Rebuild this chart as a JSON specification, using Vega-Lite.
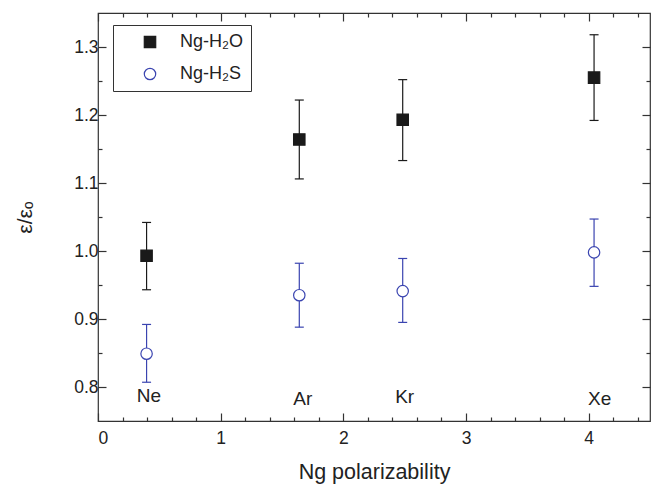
{
  "$schema": "https://vega.github.io/schema/vega-lite/v6.json",
  "width": 552,
  "height": 408,
  "autosize": {"type": "none"},
  "padding": {"left": 98, "top": 13, "right": 1, "bottom": 64},
  "config": {
    "font": "Liberation Sans",
    "view": {"stroke": "#333333", "strokeWidth": 1.2},
    "axis": {"grid": false, "domain": false, "tickColor": "#333333", "tickWidth": 1.2, "labelColor": "#222222", "titleColor": "#222222", "labelFont": "Liberation Sans", "titleFont": "Liberation Sans", "titleFontWeight": "normal", "labelOverlap": false},
    "legend": {"orient": "none", "legendX": 15, "legendY": 12, "title": null, "strokeColor": "#333333", "fillColor": "#ffffff", "padding": 8, "rowPadding": 14, "symbolOffset": 20, "labelOffset": 21, "labelFontSize": 18, "labelFont": "Liberation Sans", "labelColor": "#222222", "symbolSize": 130, "symbolStrokeWidth": 1.2}
  },
  "datasets": {
    "pts": [
      {"ng": "Ne", "series": "Ng-H₂O", "pol": 0.396, "val": 0.993, "lo": 0.943, "hi": 1.042},
      {"ng": "Ar", "series": "Ng-H₂O", "pol": 1.641, "val": 1.164, "lo": 1.106, "hi": 1.222},
      {"ng": "Kr", "series": "Ng-H₂O", "pol": 2.484, "val": 1.193, "lo": 1.133, "hi": 1.252},
      {"ng": "Xe", "series": "Ng-H₂O", "pol": 4.044, "val": 1.255, "lo": 1.192, "hi": 1.318},
      {"ng": "Ne", "series": "Ng-H₂S", "pol": 0.396, "val": 0.849, "lo": 0.807, "hi": 0.892},
      {"ng": "Ar", "series": "Ng-H₂S", "pol": 1.641, "val": 0.935, "lo": 0.888, "hi": 0.982},
      {"ng": "Kr", "series": "Ng-H₂S", "pol": 2.484, "val": 0.941, "lo": 0.895, "hi": 0.989},
      {"ng": "Xe", "series": "Ng-H₂S", "pol": 4.044, "val": 0.998, "lo": 0.948, "hi": 1.047}
    ],
    "names": [
      {"name": "Ne", "x": 0.415, "y": 0.787},
      {"name": "Ar", "x": 1.67, "y": 0.782},
      {"name": "Kr", "x": 2.5, "y": 0.785},
      {"name": "Xe", "x": 4.09, "y": 0.782}
    ]
  },
  "layer": [
    {
      "data": {"name": "pts"},
      "mark": {"type": "rule", "strokeWidth": 1.2},
      "encoding": {
        "x": {"field": "pol", "type": "quantitative",
          "scale": {"domain": [0, 4.5], "nice": false, "zero": false},
          "axis": {"orient": "bottom",
            "values": [0, 0.2, 0.4, 0.6, 0.8, 1, 1.2, 1.4, 1.6, 1.8, 2, 2.2, 2.4, 2.6, 2.8, 3, 3.2, 3.4, 3.6, 3.8, 4, 4.2, 4.4],
            "labelExpr": "abs(datum.value - round(datum.value)) < 0.01 ? format(datum.value, 'd') : ''",
            "tickSize": {"condition": {"test": "abs(datum.value - round(datum.value)) < 0.01", "value": -8}, "value": -4},
            "labelFontSize": 17.5, "labelPadding": 16,
            "title": "Ng polarizability", "titleFontSize": 21.5, "titlePadding": 11}},
        "y": {"field": "lo", "type": "quantitative",
          "scale": {"domain": [0.75, 1.35], "nice": false, "zero": false},
          "axis": {"orient": "left",
            "values": [0.8, 0.85, 0.9, 0.95, 1.0, 1.05, 1.1, 1.15, 1.2, 1.25, 1.3],
            "labelExpr": "abs(datum.value * 10 - round(datum.value * 10)) < 0.01 ? format(datum.value, '.1f') : ''",
            "tickSize": {"condition": {"test": "abs(datum.value * 10 - round(datum.value * 10)) < 0.01", "value": -8}, "value": -4},
            "labelFontSize": 17.5, "labelPadding": 8,
            "title": "ε/εₒ", "titleFontSize": 21, "titlePadding": 38}},
        "y2": {"field": "hi"},
        "stroke": {"field": "series", "type": "nominal", "scale": {"domain": ["Ng-H₂O", "Ng-H₂S"], "range": ["#1a1a1a", "#3a44b0"]}}
      }
    },
    {
      "data": {"name": "pts"},
      "mark": {"type": "point", "shape": "stroke", "size": 81, "strokeWidth": 1.2, "filled": false, "opacity": 1},
      "encoding": {
        "x": {"field": "pol", "type": "quantitative",
          "axis": {"orient": "top",
            "values": [0, 0.2, 0.4, 0.6, 0.8, 1, 1.2, 1.4, 1.6, 1.8, 2, 2.2, 2.4, 2.6, 2.8, 3, 3.2, 3.4, 3.6, 3.8, 4, 4.2, 4.4],
            "labels": false,
            "tickSize": {"condition": {"test": "abs(datum.value - round(datum.value)) < 0.01", "value": -8}, "value": -4},
            "title": null}},
        "y": {"field": "lo", "type": "quantitative",
          "axis": {"orient": "right",
            "values": [0.8, 0.85, 0.9, 0.95, 1.0, 1.05, 1.1, 1.15, 1.2, 1.25, 1.3],
            "labels": false,
            "tickSize": {"condition": {"test": "abs(datum.value * 10 - round(datum.value * 10)) < 0.01", "value": -8}, "value": -4},
            "title": null}},
        "stroke": {"field": "series", "type": "nominal"}
      }
    },
    {
      "data": {"name": "pts"},
      "mark": {"type": "point", "shape": "stroke", "size": 81, "strokeWidth": 1.2, "filled": false, "opacity": 1},
      "encoding": {
        "x": {"field": "pol", "type": "quantitative", "axis": null},
        "y": {"field": "hi", "type": "quantitative", "axis": null},
        "stroke": {"field": "series", "type": "nominal"}
      }
    },
    {
      "data": {"name": "pts"},
      "mark": {"type": "point", "size": 130, "strokeWidth": 1.2, "opacity": 1},
      "encoding": {
        "x": {"field": "pol", "type": "quantitative", "axis": null},
        "y": {"field": "val", "type": "quantitative", "axis": null},
        "shape": {"field": "series", "type": "nominal", "scale": {"domain": ["Ng-H₂O", "Ng-H₂S"], "range": ["square", "circle"]}},
        "fill": {"field": "series", "type": "nominal", "scale": {"domain": ["Ng-H₂O", "Ng-H₂S"], "range": ["#1a1a1a", "#ffffff"]}},
        "stroke": {"field": "series", "type": "nominal"}
      }
    },
    {
      "data": {"name": "names"},
      "mark": {"type": "text", "fontSize": 19, "font": "Liberation Sans", "color": "#222222", "baseline": "middle", "align": "center"},
      "encoding": {
        "x": {"field": "x", "type": "quantitative", "axis": null},
        "y": {"field": "y", "type": "quantitative", "axis": null},
        "text": {"field": "name"}
      }
    }
  ]
}
